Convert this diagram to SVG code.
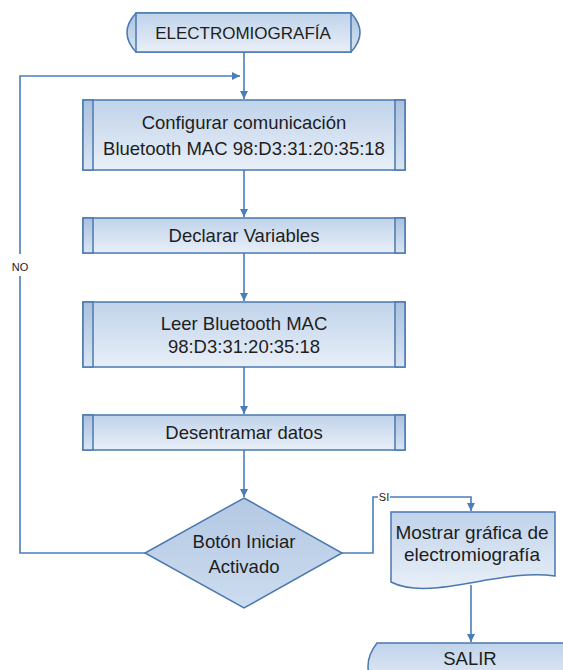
<svg xmlns="http://www.w3.org/2000/svg" width="563" height="670" viewBox="0 0 563 670">
<style>
.t{font-family:"Liberation Sans",Arial,sans-serif;fill:#1e1e1e;text-anchor:middle}
.s{stroke:#4a78b0;stroke-width:1.5}
.c{fill:none;stroke:#4a7ebb;stroke-width:1.6}
.lbl{font-family:"Liberation Sans",Arial,sans-serif;font-size:11px;fill:#222;text-anchor:middle}
</style>
<defs>
<linearGradient id="g" x1="0" y1="0" x2="0" y2="1">
<stop offset="0" stop-color="#c0d3ea"/><stop offset="1" stop-color="#e8eff8"/>
</linearGradient>
<linearGradient id="gs" x1="0" y1="0" x2="0" y2="1">
<stop offset="0" stop-color="#aac1de"/><stop offset="1" stop-color="#d9e5f2"/>
</linearGradient>
<linearGradient id="gd" x1="0" y1="0" x2="0" y2="1">
<stop offset="0" stop-color="#b3c8e3"/><stop offset="1" stop-color="#cddcef"/>
</linearGradient>
<marker id="a" markerUnits="userSpaceOnUse" markerWidth="9" markerHeight="9" refX="8" refY="4" orient="auto">
<path d="M0,0 L8,4 L0,8 Z" fill="#4a7ebb"/>
</marker>
</defs>

<g id="connectors">
<path class="c" d="M244,52 V99" marker-end="url(#a)"/>
<path class="c" d="M244,170 V217" marker-end="url(#a)"/>
<path class="c" d="M244,253 V301" marker-end="url(#a)"/>
<path class="c" d="M244,367 V414" marker-end="url(#a)"/>
<path class="c" d="M244,450 V497" marker-end="url(#a)"/>
<path class="c" d="M145,553 H20 V276"/>
<path class="c" d="M20,254 V76 H240" marker-end="url(#a)"/>
<text class="lbl" x="20" y="271">NO</text>
<path class="c" d="M342,553 H373 V497 H378"/>
<path class="c" d="M390,497 H471 V511" marker-end="url(#a)"/>
<text class="lbl" x="384" y="501">SI</text>
<path class="c" d="M471,585 V642" marker-end="url(#a)"/>
</g>

<g id="start">
<path class="s" fill="url(#gs)" d="M136,13 H351 Q369,32.5 351,52 H136 Q118,32.5 136,13 Z"/>
<rect class="s" x="136" y="13" width="215" height="39" fill="url(#g)"/>
<text class="t" x="243" y="38.5" font-size="17">ELECTROMIOGRAFÍA</text>
</g>

<g id="config">
<rect class="s" x="83" y="100" width="322" height="70" fill="url(#g)"/>
<rect class="s" x="83" y="100" width="10" height="70" fill="url(#gs)"/>
<rect class="s" x="395" y="100" width="10" height="70" fill="url(#gs)"/>
<text class="t" x="244" y="128.5" font-size="18.5">Configurar comunicación</text>
<text class="t" x="244" y="155" font-size="18.5">Bluetooth MAC 98:D3:31:20:35:18</text>
</g>

<g id="declarar">
<rect class="s" x="83" y="218" width="322" height="35" fill="url(#g)"/>
<rect class="s" x="83" y="218" width="10" height="35" fill="url(#gs)"/>
<rect class="s" x="395" y="218" width="10" height="35" fill="url(#gs)"/>
<text class="t" x="244" y="242" font-size="18.5">Declarar Variables</text>
</g>

<g id="leer">
<rect class="s" x="83" y="302" width="322" height="65" fill="url(#g)"/>
<rect class="s" x="83" y="302" width="10" height="65" fill="url(#gs)"/>
<rect class="s" x="395" y="302" width="10" height="65" fill="url(#gs)"/>
<text class="t" x="244" y="330" font-size="18.5">Leer Bluetooth MAC</text>
<text class="t" x="244" y="353" font-size="18.5">98:D3:31:20:35:18</text>
</g>

<g id="desentramar">
<rect class="s" x="83" y="415" width="322" height="35" fill="url(#g)"/>
<rect class="s" x="83" y="415" width="10" height="35" fill="url(#gs)"/>
<rect class="s" x="395" y="415" width="10" height="35" fill="url(#gs)"/>
<text class="t" x="244" y="438.5" font-size="18.5">Desentramar datos</text>
</g>

<g id="decision">
<path class="s" fill="url(#gd)" d="M244,498 L342,553 L244,608 L145,553 Z"/>
<text class="t" x="244" y="548" font-size="18.5">Botón Iniciar</text>
<text class="t" x="244" y="573" font-size="18.5">Activado</text>
</g>

<g id="mostrar">
<path class="s" fill="url(#g)" d="M391,512 H555 V576 C500,568 430,602 391,582 Z"/>
<text class="t" x="472" y="538.5" font-size="19">Mostrar gráfica de</text>
<text class="t" x="472" y="560.5" font-size="19">electromiografía</text>
</g>

<g id="salir">
<path class="s" fill="url(#g)" d="M377,643 H580 V690 H377 Q359,666 377,643 Z"/>
<text class="t" x="470" y="665" font-size="18.5">SALIR</text>
</g>
</svg>
